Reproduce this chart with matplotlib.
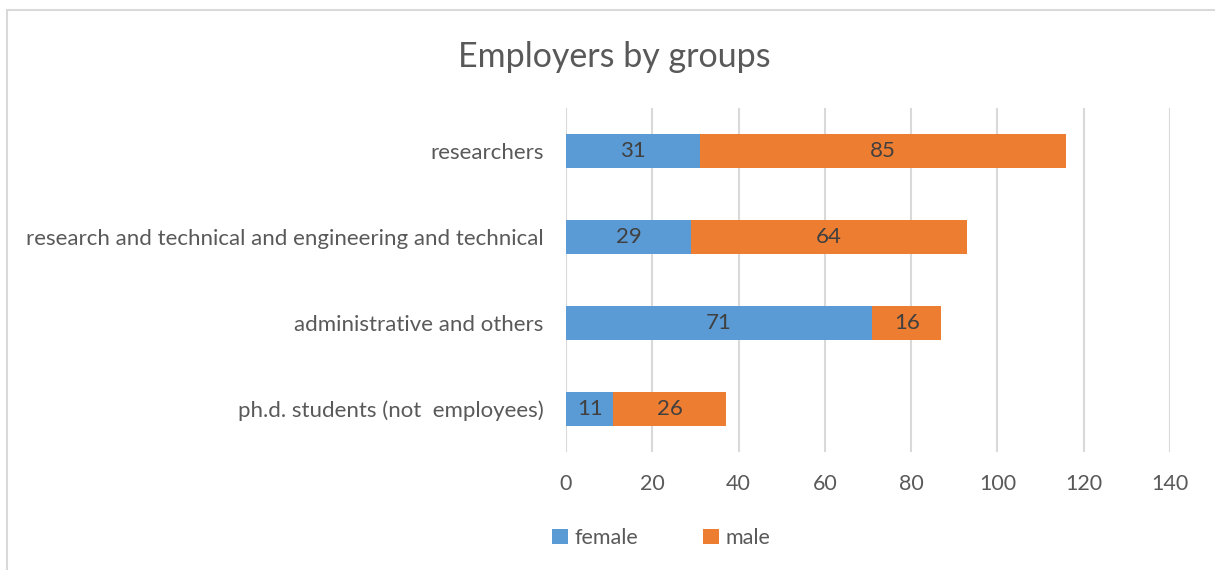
import matplotlib
matplotlib.use('Agg')
import matplotlib.pyplot as plt
from matplotlib.patches import Rectangle

groups = ['researchers',
          'research and technical and engineering and technical',
          'administrative and others',
          'ph.d. students (not  employees)']
female = [31, 29, 71, 11]
male = [85, 64, 16, 26]
xticks = [0, 20, 40, 60, 80, 100, 120, 140]

blue = '#5b9bd5'
orange = '#ed7d31'
text_grey = '#595959'

plt.rcParams['font.family'] = ['Lato', 'DejaVu Sans']

fig = plt.figure(figsize=(12.15, 5.7), dpi=100)
ax = fig.add_axes([566 / 1215, 118 / 570, 604 / 1215, 344 / 570])

# chart frame, only top and left edges are in view
fig.add_artist(Rectangle((7 / 1215, -0.1), 1.2, (560 / 570) + 0.1,
                         transform=fig.transFigure, fill=False,
                         edgecolor='#d9d9d9', linewidth=1.5))

pos = list(range(len(groups)))
bf = ax.barh(pos, female, height=0.4, color=blue, label='female', zorder=3)
bm = ax.barh(pos, male, left=female, height=0.4, color=orange, label='male', zorder=3)

ax.bar_label(bf, label_type='center', color='#404040', fontsize=16)
ax.bar_label(bm, label_type='center', color='#404040', fontsize=16)

ax.set_ylim(3.5, -0.5)
ax.set_xlim(0, 140)
ax.set_yticks(pos)
ax.set_yticklabels(groups)
ax.set_xticks(xticks)
ax.tick_params(axis='y', length=0, labelsize=16, labelcolor=text_grey, pad=16)
ax.tick_params(axis='x', length=0, labelsize=15.5, labelcolor=text_grey, pad=16)
ax.grid(axis='x', color='#d9d9d9', linewidth=1.5, zorder=0)
for s in ax.spines.values():
    s.set_visible(False)

fig.text(614 / 1215, 513 / 570, 'Employers by groups', ha='center', va='center',
         fontsize=24.5, color=text_grey)

fig.legend(handles=[bf, bm], loc='center', bbox_to_anchor=(661 / 1215, 32 / 570),
           ncol=2, frameon=False, fontsize=15.5, labelcolor=text_grey,
           handlelength=0.75, handleheight=0.75, handletextpad=0.3, columnspacing=3.0)

fig.savefig('out.png', dpi=100)
